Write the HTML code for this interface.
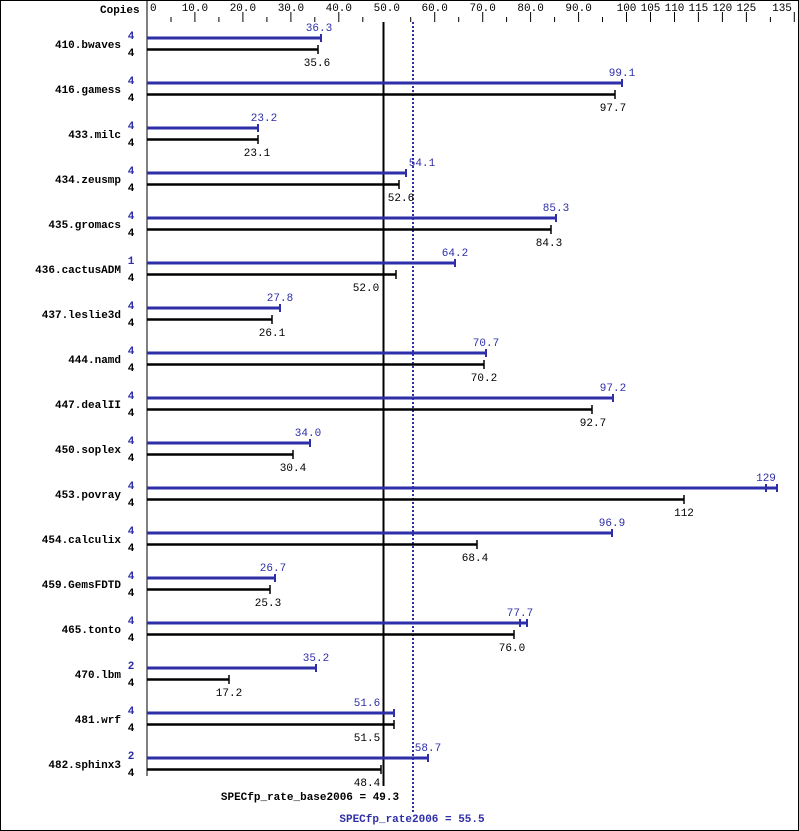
<!DOCTYPE html>
<html><head><meta charset="utf-8"><style>
body{margin:0;background:#fff}
svg{display:block}
text{font-family:"Liberation Mono","DejaVu Sans Mono",monospace;font-size:11px}
.b{font-weight:bold}
.bl{fill:#2e2ea8}
</style></head><body>
<svg width="799" height="831" xmlns="http://www.w3.org/2000/svg">
<rect x="0.5" y="0.5" width="798" height="830" fill="#fff" stroke="#000"/>
<text x="100" y="13" class="b">Copies</text>
<line x1="147" y1="0" x2="147" y2="776" stroke="#000"/>
<g stroke="#000">
<line x1="194.9" y1="12" x2="194.9" y2="22"/><line x1="242.9" y1="12" x2="242.9" y2="22"/><line x1="290.9" y1="12" x2="290.9" y2="22"/><line x1="338.8" y1="12" x2="338.8" y2="22"/><line x1="434.7" y1="12" x2="434.7" y2="22"/><line x1="482.7" y1="12" x2="482.7" y2="22"/><line x1="530.6" y1="12" x2="530.6" y2="22"/><line x1="578.6" y1="12" x2="578.6" y2="22"/><line x1="626.5" y1="12" x2="626.5" y2="22"/><line x1="650.5" y1="12" x2="650.5" y2="22"/><line x1="674.5" y1="12" x2="674.5" y2="22"/><line x1="698.4" y1="12" x2="698.4" y2="22"/><line x1="722.4" y1="12" x2="722.4" y2="22"/><line x1="746.4" y1="12" x2="746.4" y2="22"/><line x1="794.3" y1="12" x2="794.3" y2="22"/>
<line x1="171" y1="17" x2="171" y2="22"/><line x1="218.9" y1="17" x2="218.9" y2="22"/><line x1="266.9" y1="17" x2="266.9" y2="22"/><line x1="314.8" y1="17" x2="314.8" y2="22"/><line x1="362.8" y1="17" x2="362.8" y2="22"/><line x1="410.7" y1="17" x2="410.7" y2="22"/><line x1="458.7" y1="17" x2="458.7" y2="22"/><line x1="506.6" y1="17" x2="506.6" y2="22"/><line x1="554.6" y1="17" x2="554.6" y2="22"/><line x1="602.5" y1="17" x2="602.5" y2="22"/><line x1="770.4" y1="17" x2="770.4" y2="22"/>
</g>
<g text-anchor="middle">
<text x="194.9" y="11">10.0</text><text x="242.9" y="11">20.0</text><text x="290.9" y="11">30.0</text><text x="338.8" y="11">40.0</text><text x="386.8" y="11">50.0</text><text x="434.7" y="11">60.0</text><text x="482.7" y="11">70.0</text><text x="530.6" y="11">80.0</text><text x="578.6" y="11">90.0</text><text x="626.5" y="11">100</text><text x="650.5" y="11">105</text><text x="674.5" y="11">110</text><text x="698.4" y="11">115</text><text x="722.4" y="11">120</text><text x="746.4" y="11">125</text><text x="782" y="11">135</text>
</g>
<text x="150" y="11">0</text>
<line x1="383.5" y1="22" x2="383.5" y2="786" stroke="#000" stroke-width="2"/>
<line x1="413" y1="22" x2="413" y2="812" stroke="#2e2ea8" stroke-width="2" stroke-dasharray="2,2"/>
<text x="310" y="800" class="b" text-anchor="middle">SPECfp_rate_base2006 = 49.3</text>
<text x="412" y="822" class="b bl" text-anchor="middle">SPECfp_rate2006 = 55.5</text>
<g text-anchor="end" class="b">
<text x="121" y="48">410.bwaves</text><text x="121" y="93">416.gamess</text><text x="121" y="138">433.milc</text><text x="121" y="183">434.zeusmp</text><text x="121" y="228">435.gromacs</text><text x="121" y="273">436.cactusADM</text><text x="121" y="318">437.leslie3d</text><text x="121" y="363">444.namd</text><text x="121" y="408">447.dealII</text><text x="121" y="453">450.soplex</text><text x="121" y="498">453.povray</text><text x="121" y="543">454.calculix</text><text x="121" y="588">459.GemsFDTD</text><text x="121" y="633">465.tonto</text><text x="121" y="678">470.lbm</text><text x="121" y="723">481.wrf</text><text x="121" y="768">482.sphinx3</text>
</g>
<g class="b bl" text-anchor="middle">
<text x="131" y="39">4</text><text x="131" y="84">4</text><text x="131" y="129">4</text><text x="131" y="174">4</text><text x="131" y="219">4</text><text x="131" y="264">1</text><text x="131" y="309">4</text><text x="131" y="354">4</text><text x="131" y="399">4</text><text x="131" y="444">4</text><text x="131" y="489">4</text><text x="131" y="534">4</text><text x="131" y="579">4</text><text x="131" y="624">4</text><text x="131" y="669">2</text><text x="131" y="714">4</text><text x="131" y="759">2</text>
</g>
<g class="b" text-anchor="middle">
<text x="131" y="56">4</text><text x="131" y="101">4</text><text x="131" y="146">4</text><text x="131" y="191">4</text><text x="131" y="236">4</text><text x="131" y="281">4</text><text x="131" y="326">4</text><text x="131" y="371">4</text><text x="131" y="416">4</text><text x="131" y="461">4</text><text x="131" y="506">4</text><text x="131" y="551">4</text><text x="131" y="596">4</text><text x="131" y="641">4</text><text x="131" y="686">4</text><text x="131" y="731">4</text><text x="131" y="776">4</text>
</g>
<g stroke="#2e2ea8" stroke-width="3">
<line x1="147" y1="38" x2="321" y2="38"/><line x1="147" y1="83" x2="622" y2="83"/><line x1="147" y1="128" x2="258" y2="128"/><line x1="147" y1="173" x2="406" y2="173"/><line x1="147" y1="218" x2="556" y2="218"/><line x1="147" y1="263" x2="455" y2="263"/><line x1="147" y1="308" x2="280" y2="308"/><line x1="147" y1="353" x2="486" y2="353"/><line x1="147" y1="398" x2="613" y2="398"/><line x1="147" y1="443" x2="310" y2="443"/><line x1="147" y1="488" x2="777" y2="488"/><line x1="147" y1="533" x2="612" y2="533"/><line x1="147" y1="578" x2="275" y2="578"/><line x1="147" y1="623" x2="527" y2="623"/><line x1="147" y1="668" x2="316" y2="668"/><line x1="147" y1="713" x2="394" y2="713"/><line x1="147" y1="758" x2="428" y2="758"/>
</g>
<g stroke="#2e2ea8" stroke-width="2">
<line x1="321" y1="34" x2="321" y2="42"/><line x1="622" y1="79" x2="622" y2="87"/><line x1="258" y1="124" x2="258" y2="132"/><line x1="406" y1="169" x2="406" y2="177"/><line x1="556" y1="214" x2="556" y2="222"/><line x1="455" y1="259" x2="455" y2="267"/><line x1="280" y1="304" x2="280" y2="312"/><line x1="486" y1="349" x2="486" y2="357"/><line x1="613" y1="394" x2="613" y2="402"/><line x1="310" y1="439" x2="310" y2="447"/><line x1="766" y1="484" x2="766" y2="492"/><line x1="777" y1="484" x2="777" y2="492"/><line x1="612" y1="529" x2="612" y2="537"/><line x1="275" y1="574" x2="275" y2="582"/><line x1="520" y1="619" x2="520" y2="627"/><line x1="527" y1="619" x2="527" y2="627"/><line x1="316" y1="664" x2="316" y2="672"/><line x1="394" y1="709" x2="394" y2="717"/><line x1="428" y1="754" x2="428" y2="762"/>
</g>
<g stroke="#000" stroke-width="2.5">
<line x1="147" y1="49.5" x2="318" y2="49.5"/><line x1="147" y1="94.5" x2="615" y2="94.5"/><line x1="147" y1="139.5" x2="258" y2="139.5"/><line x1="147" y1="184.5" x2="399" y2="184.5"/><line x1="147" y1="229.5" x2="551" y2="229.5"/><line x1="147" y1="274.5" x2="396" y2="274.5"/><line x1="147" y1="319.5" x2="272" y2="319.5"/><line x1="147" y1="364.5" x2="484" y2="364.5"/><line x1="147" y1="409.5" x2="592" y2="409.5"/><line x1="147" y1="454.5" x2="293" y2="454.5"/><line x1="147" y1="499.5" x2="684" y2="499.5"/><line x1="147" y1="544.5" x2="477" y2="544.5"/><line x1="147" y1="589.5" x2="270" y2="589.5"/><line x1="147" y1="634.5" x2="514" y2="634.5"/><line x1="147" y1="679.5" x2="229" y2="679.5"/><line x1="147" y1="724.5" x2="394" y2="724.5"/><line x1="147" y1="769.5" x2="381" y2="769.5"/>
</g>
<g stroke="#000" stroke-width="1.5">
<line x1="318" y1="45" x2="318" y2="54"/><line x1="615" y1="90" x2="615" y2="99"/><line x1="258" y1="135" x2="258" y2="144"/><line x1="399" y1="180" x2="399" y2="189"/><line x1="551" y1="225" x2="551" y2="234"/><line x1="396" y1="270" x2="396" y2="279"/><line x1="272" y1="315" x2="272" y2="324"/><line x1="484" y1="360" x2="484" y2="369"/><line x1="592" y1="405" x2="592" y2="414"/><line x1="293" y1="450" x2="293" y2="459"/><line x1="684" y1="495" x2="684" y2="504"/><line x1="477" y1="540" x2="477" y2="549"/><line x1="270" y1="585" x2="270" y2="594"/><line x1="514" y1="630" x2="514" y2="639"/><line x1="229" y1="675" x2="229" y2="684"/><line x1="394" y1="720" x2="394" y2="729"/><line x1="381" y1="765" x2="381" y2="774"/>
</g>
<g class="bl" text-anchor="middle">
<text x="319" y="31">36.3</text><text x="622" y="76">99.1</text><text x="264" y="121">23.2</text><text x="422" y="166">54.1</text><text x="556" y="211">85.3</text><text x="455" y="256">64.2</text><text x="280" y="301">27.8</text><text x="486" y="346">70.7</text><text x="613" y="391">97.2</text><text x="308" y="436">34.0</text><text x="766" y="481">129</text><text x="612" y="526">96.9</text><text x="273" y="571">26.7</text><text x="520" y="616">77.7</text><text x="316" y="661">35.2</text><text x="367" y="706">51.6</text><text x="428" y="751">58.7</text>
</g>
<g text-anchor="middle">
<text x="317" y="66">35.6</text><text x="613" y="111">97.7</text><text x="257" y="156">23.1</text><text x="401" y="201">52.6</text><text x="549" y="246">84.3</text><text x="366" y="291">52.0</text><text x="272" y="336">26.1</text><text x="484" y="381">70.2</text><text x="593" y="426">92.7</text><text x="293" y="471">30.4</text><text x="684" y="516">112</text><text x="475" y="561">68.4</text><text x="268" y="606">25.3</text><text x="512" y="651">76.0</text><text x="229" y="696">17.2</text><text x="367" y="741">51.5</text><text x="367" y="786">48.4</text>
</g>
</svg>
</body></html>
